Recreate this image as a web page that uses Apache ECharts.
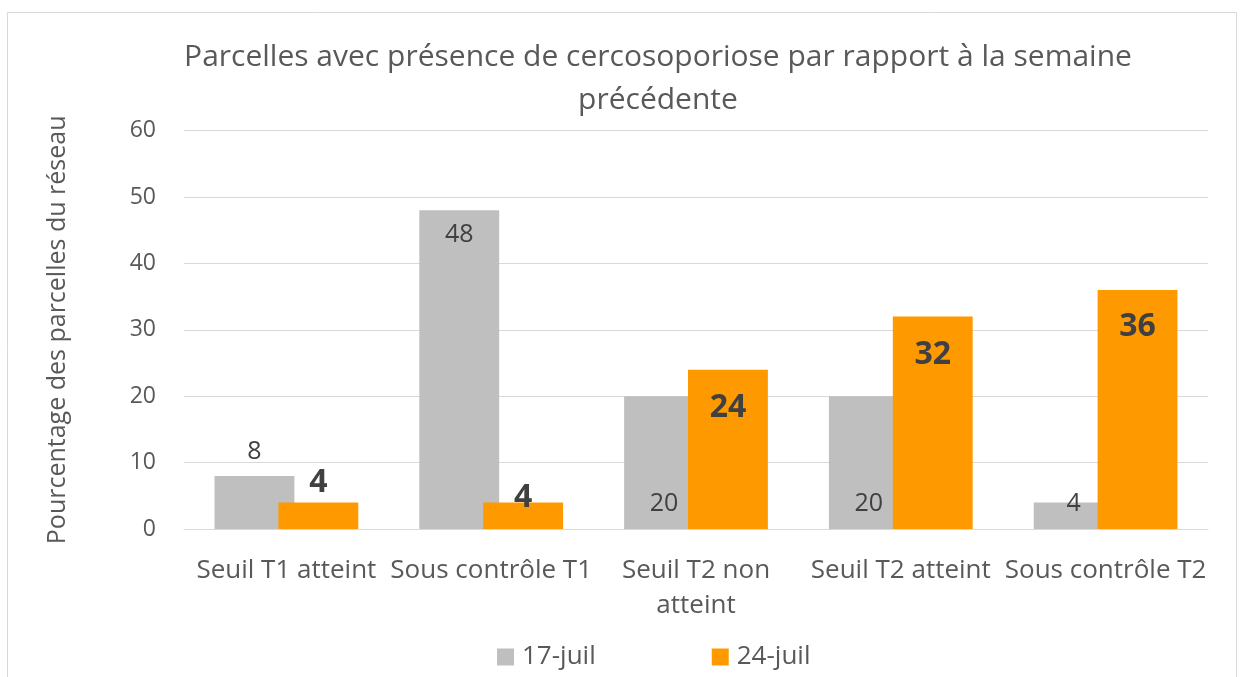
<!DOCTYPE html>
<html><head><meta charset="utf-8">
<script src="https://cdn.jsdelivr.net/npm/echarts@6/dist/echarts.min.js"></script>
<style>html,body{margin:0;padding:0;background:#fff}#c{width:1244px;height:677px}</style>
</head><body><div id="c"></div>
<script>
const categories = ['Seuil T1 atteint', 'Sous contrôle T1', 'Seuil T2 non atteint', 'Seuil T2 atteint', 'Sous contrôle T2'];
const seriesNames = ['17-juil', '24-juil'];
const values17 = [8, 48, 20, 20, 4];
const values24 = [4, 4, 24, 32, 36];
const yTicks = { min: 0, max: 60, interval: 10 };

const FONT = 'Open Sans';
const grayLabelStyle = [
  { position: 'top', distance: 12 },
  { position: 'insideTop', distance: 12 },
  { position: 'insideBottom', distance: 13 },
  { position: 'insideBottom', distance: 13 },
  { position: 'top', distance: -14 }
];
const orangeLabelStyle = [
  { position: 'top', distance: 4 },
  { position: 'top', distance: -11 },
  { position: 'insideTop', distance: 22 },
  { position: 'insideTop', distance: 22.5 },
  { position: 'insideTop', distance: 21 }
];

const chart = echarts.init(document.getElementById('c'), null, { renderer: 'canvas' });
chart.setOption({
  backgroundColor: '#fff',
  animation: false,
  graphic: [{
    type: 'rect', shape: { x: 7.5, y: 12.5, width: 1229, height: 720 },
    style: { fill: 'none', stroke: '#d9d9d9', lineWidth: 1 }, silent: true, z: -1
  }],
  title: {
    text: 'Parcelles avec présence de cercosoporiose par rapport à la semaine\nprécédente',
    left: 653, top: 31, textAlign: 'center',
    textStyle: { fontFamily: FONT, fontSize: 30, fontWeight: 'normal', color: '#595959', lineHeight: 43 }
  },
  legend: {
    data: seriesNames,
    left: 497, top: 644, padding: 0,
    itemWidth: 17, itemHeight: 17, itemGap: 116,
    icon: 'rect',
    textStyle: { fontFamily: FONT, fontSize: 26, color: '#595959', padding: [0, 0, 0, 3] }
  },
  grid: { left: 184, right: 36, top: 130.7, bottom: 148 },
  xAxis: {
    type: 'category',
    data: categories,
    axisLine: { lineStyle: { color: '#d9d9d9', width: 1 } },
    axisTick: { show: false },
    axisLabel: {
      interval: 0, margin: 24, color: '#595959', fontFamily: FONT, fontSize: 26, lineHeight: 35,
      formatter: v => v.replace(' non ', ' non\n')
    }
  },
  yAxis: {
    type: 'value', min: yTicks.min, max: yTicks.max, interval: yTicks.interval,
    name: 'Pourcentage des parcelles du réseau',
    nameLocation: 'middle', nameGap: 114,
    nameTextStyle: { fontFamily: FONT, fontSize: 25, color: '#595959' },
    axisLine: { show: false }, axisTick: { show: false },
    axisLabel: { margin: 28, color: '#595959', fontFamily: FONT, fontSize: 23 },
    splitLine: { lineStyle: { color: '#d9d9d9', width: 1 } }
  },
  series: [
    {
      name: seriesNames[0], type: 'bar', barWidth: '39%', barGap: '-20%',
      itemStyle: { color: '#bfbfbf' },
      data: values17.map((v, i) => ({
        value: v,
        label: Object.assign({ show: true, color: '#404040', fontFamily: FONT, fontSize: 25 }, grayLabelStyle[i])
      })),
      z: 2
    },
    {
      name: seriesNames[1], type: 'bar', barWidth: '39%', barGap: '-20%',
      itemStyle: { color: '#ff9900' },
      data: values24.map((v, i) => ({
        value: v,
        label: Object.assign({ show: true, color: '#404040', fontFamily: FONT, fontSize: 32, fontWeight: 'bold' }, orangeLabelStyle[i])
      })),
      z: 3
    }
  ]
});
</script></body></html>
